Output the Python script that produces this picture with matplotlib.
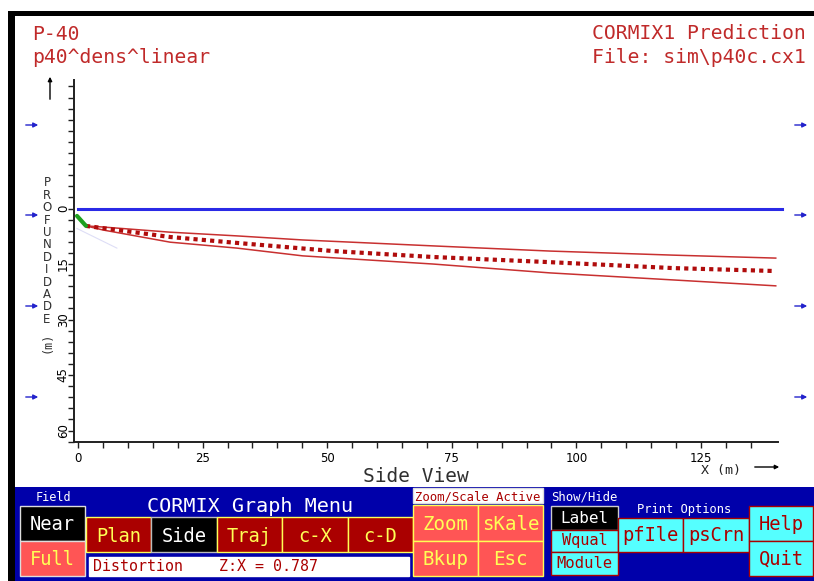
#!/usr/bin/env python3
"""CORMIX1 side view of the P-40 plume, drawn with the DOS graph menu underneath."""
import matplotlib
matplotlib.use("Agg")
import matplotlib.pyplot as plt
from matplotlib.patches import Rectangle, FancyArrowPatch
import numpy as np


# ── Data (X downstream in m, depth below surface in m) ────────────────

jet_x = [-0.2, 1.6]
jet_z = [2.0, 4.7]

cl_x = [1.6, 5.0, 18.5, 31.9, 45.1, 51.2, 71.2, 94.7, 119.4, 140.0]
cl_z = [4.7, 5.3, 7.7, 9.3, 10.8, 11.5, 13.1, 14.5, 16.1, 16.9]

edge_x = [1.6, 5.0, 18.5, 31.9, 45.1, 71.2, 94.7, 119.4, 140.0]
upper_z = [4.7, 5.0, 6.4, 7.4, 8.5, 10.1, 11.5, 12.6, 13.4]
lower_z = [4.7, 5.8, 9.1, 10.7, 12.8, 15.0, 17.4, 19.3, 20.9]

trace_x = [-0.2, 7.8]
trace_z = [5.4, 10.7]

surface_x = [0.0, 141.2]
surface_z = [0.0, 0.0]

x_labels = [0, 25, 50, 75, 100, 125]
z_labels = [0, 15, 30, 45, 60]

title_left = ["P-40", "p40^dens^linear"]
title_right = ["CORMIX1 Prediction", "File: sim\\p40c.cx1"]
distortion = 0.787


# ── Layout ────────────────────────────────────────────────────────────

W, H = 814, 581
MONO = "DejaVu Sans Mono"
RED_TXT = "#C02A2A"
DOS_BLUE = "#0000AA"
DK_RED = "#AA0000"
LT_RED = "#FF5555"
YELLOW = "#FFFF55"
CYAN = "#55FFFF"


def fx(x):
    return x / W


def fy(y):
    return 1 - y / H


def box(x0, y0, x1, y1, face, edge, lw=1.0):
    fig.add_artist(Rectangle((fx(x0), fy(y1)), (x1 - x0) / W, (y1 - y0) / H,
                             transform=fig.transFigure, facecolor=face,
                             edgecolor=edge, lw=lw))


def label(x, y, s, color, size, ha="center", family=MONO, **kw):
    fig.text(fx(x), fy(y), s, color=color, fontsize=size, ha=ha,
             va="baseline", family=family, **kw)


def arrow(x0, y0, x1, y1, color, lw=1.0, ms=7):
    fig.add_artist(FancyArrowPatch((fx(x0), fy(y0)), (fx(x1), fy(y1)),
                                   transform=fig.transFigure, arrowstyle="-|>",
                                   mutation_scale=ms, color=color, lw=lw))


fig = plt.figure(figsize=(W / 100, H / 100), dpi=100, facecolor="white")

# outer window frame
box(8, 11, W + 2, 16, "black", "none", 0)
box(8, 11, 15, H + 2, "black", "none", 0)

# ── Side view axes ────────────────────────────────────────────────────

ax = fig.add_axes([fx(74), fy(442), (778 - 74) / W, (442 - 80) / H])
ax.set_xlim(-0.8, 140.45)
ax.set_ylim(63.1, -34.73)
for s in ("top", "right"):
    ax.spines[s].set_visible(False)
for s in ("left", "bottom"):
    ax.spines[s].set_linewidth(1.4)
    ax.spines[s].set_color("#202020")

ax.set_xticks(x_labels)
ax.set_xticklabels([str(v) for v in x_labels], fontsize=8.5, family="DejaVu Sans")
ax.set_xticks(np.arange(0, 136, 5), minor=True)
ax.set_yticks(z_labels)
ax.set_yticklabels([str(v) for v in z_labels], fontsize=8.5, family="DejaVu Sans",
                   rotation=90, va="center")
ax.set_yticks(np.arange(-33, 64, 3), minor=True)
ax.tick_params(which="both", direction="out", length=4.5, width=1.0, color="#202020")
ax.tick_params(axis="x", pad=3)
ax.tick_params(axis="y", pad=-1.5)

ax.plot(surface_x, surface_z, color="#2A2AE6", lw=2.2, clip_on=False, zorder=2)
ax.plot(trace_x, trace_z, color="#C8C8F0", lw=0.8, alpha=0.6, zorder=1)
ax.plot(edge_x, upper_z, color="#C83030", lw=1.1, zorder=3)
ax.plot(edge_x, lower_z, color="#C83030", lw=1.1, zorder=3)
ax.plot(cl_x, cl_z, color="#B00C0C", lw=3.0, linestyle=(0, (1, 1)), zorder=4)
ax.plot(jet_x, jet_z, color="#1FA01F", lw=3.0, solid_capstyle="round", zorder=5)

# axis captions
for i, ch in enumerate("PROFUNDIDADE"):
    fig.text(fx(47), fy(183 + i * 12.4), ch, fontsize=8.5, family="DejaVu Sans",
             ha="center", va="center", color="#303030")
fig.text(fx(47), fy(342), "(m)", fontsize=8.5, family=MONO, rotation=90,
         ha="center", va="center", color="#303030")
arrow(50, 102, 50, 74, "black", lw=1.0, ms=6)

label(416, 482, "Side View", "#303030", 14)
label(701, 474, "X (m)", "#202020", 9.5, ha="left")
arrow(752, 467, 782, 467, "black", lw=1.0, ms=6)

# flow-direction arrows on both sides
for yy in (125, 215, 306, 397):
    arrow(23, yy, 41, yy, "#2222CC", lw=1.0, ms=7)
    arrow(792, yy, 810, yy, "#2222CC", lw=1.0, ms=7)

# titles
label(32, 40, title_left[0], RED_TXT, 14.2, ha="left")
label(32, 63, title_left[1], RED_TXT, 14.2, ha="left")
label(806, 39, title_right[0], RED_TXT, 14.2, ha="right")
label(806, 63, title_right[1], RED_TXT, 14.2, ha="right")

# ── Graph menu ────────────────────────────────────────────────────────

box(15, 487, W + 2, H + 2, DOS_BLUE, "none", 0)

label(53, 501, "Field", "white", 8.5)
box(20, 506, 85, 541, "black", "#DDDDDD")
label(52.5, 530, "Near", "white", 13.5)
box(20, 541, 85, 576, LT_RED, "#DDDDDD")
label(52.5, 565, "Full", YELLOW, 13.5)

label(250, 512, "CORMIX Graph Menu", "white", 14.5)

views = [("Plan", 86, 151), ("Side", 151, 217), ("Traj", 217, 282),
         ("c-X", 282, 348), ("c-D", 348, 413)]
for name, x0, x1 in views:
    active = name == "Side"
    box(x0, 517, x1, 552, "black" if active else DK_RED,
        "#BBBBBB" if active else YELLOW)
    label((x0 + x1) / 2, 542, name, "white" if active else YELLOW, 13.5)

box(89, 557, 409, 576, "white", "white")
label(93, 571, f"Distortion    Z:X = {distortion:.3f}", DK_RED, 10.8, ha="left")

box(413, 488, 543, 503, "white", "#DDDDDD")
label(478, 501, "Zoom/Scale Active", DK_RED, 8.8)
for name, x0, y0 in [("Zoom", 413, 505), ("sKale", 478, 505),
                     ("Bkup", 413, 541), ("Esc", 478, 541)]:
    box(x0, y0, x0 + 65, y0 + 36 if y0 == 505 else 576, LT_RED, YELLOW)
    label(x0 + 32.5, 530 if y0 == 505 else 565, name, YELLOW, 13.8)

label(584, 501, "Show/Hide", "white", 8.8)
box(551, 506, 618, 530, "black", "#CCCCCC")
label(584.5, 523, "Label", "white", 11.5)
box(551, 530, 618, 552, CYAN, DK_RED)
label(584.5, 545, "Wqual", DK_RED, 11)
box(551, 552, 618, 575, CYAN, DK_RED)
label(584.5, 568, "Module", DK_RED, 11.2)

label(684, 513, "Print Options", "white", 8.7)
box(618, 518, 683, 552, CYAN, DK_RED)
label(650.5, 541, "pfIle", DK_RED, 13.5)
box(683, 518, 749, 552, CYAN, DK_RED)
label(716, 541, "psCrn", DK_RED, 13.5)

box(749, 506, 813, 541, CYAN, DK_RED)
label(781, 530, "Help", DK_RED, 13.5)
box(749, 541, 813, 576, CYAN, DK_RED)
label(781, 565, "Quit", DK_RED, 13.5)

fig.savefig("out.png", dpi=100, facecolor="white")
